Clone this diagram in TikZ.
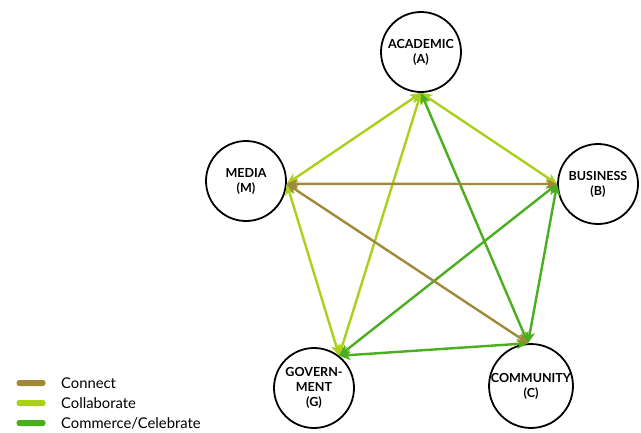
\documentclass[tikz,border=0pt]{standalone}
\usepackage{fontspec}
\setmainfont{Lato}
\usetikzlibrary{arrows.meta}
\definecolor{connectc}{HTML}{A08A3A}
\definecolor{collabc}{HTML}{A8D01C}
\definecolor{commc}{HTML}{4AAE1E}
\begin{document}
\begin{tikzpicture}[x=1pt,y=-1pt,
  hub/.style={circle,draw=black,line width=1.8pt,minimum size=80pt,inner sep=0pt,align=center,font=\bfseries\fontsize{12.5}{15}\selectfont},
  link/.style={line width=2.4pt,{Stealth[length=11pt,width=10pt,inset=3pt]}-{Stealth[length=11pt,width=10pt,inset=3pt]}},
  swatch/.style={rounded corners=2.5pt,minimum width=29pt,minimum height=6pt,inner sep=0pt},
  legtext/.style={anchor=west,font=\fontsize{14.8}{17}\selectfont,inner sep=0pt}]
\useasboundingbox (0,0) rectangle (641,432);
\node[hub] (A) at (421,52) {ACADEMIC\\(A)};
\node[hub] (M) at (246,181) {MEDIA\\(M)};
\node[hub] (B) at (598,184) {BUSINESS\\(B)};
\node[hub] (G) at (314,388) {GOVERN-\\MENT\\(G)};
\node[hub] (C) at (531,386) {COMMUNITY\\(C)};
% Collaborate
\draw[link,collabc] (M.-4) -- (A.south);
\draw[link,collabc] (A.south) -- (B.west);
\draw[link,collabc] (M.-4) -- (G.52);
\draw[link,collabc] (A.south) -- (G.52);
% Commerce
\draw[link,commc] (A.south) -- (C.94);
\draw[link,commc] (B.west) -- (G.52);
\draw[link,commc] (B.west) -- (C.94);
\draw[link,commc] (G.52) -- (C.94);
% Connect
\draw[link,connectc] (M.-4) -- (B.west);
\draw[link,connectc] (M.-4) -- (C.94);
% Legend
\node[swatch,fill=connectc] (l1) at (31,383) {};
\node[swatch,fill=collabc] (l2) at (31,403) {};
\node[swatch,fill=commc] (l3) at (31,423) {};
\node[legtext] (t1) at (61,383) {Connect};
\node[legtext] (t2) at (61,403) {Collaborate};
\node[legtext] (t3) at (61,423) {Commerce/Celebrate};
\end{tikzpicture}
\end{document}
